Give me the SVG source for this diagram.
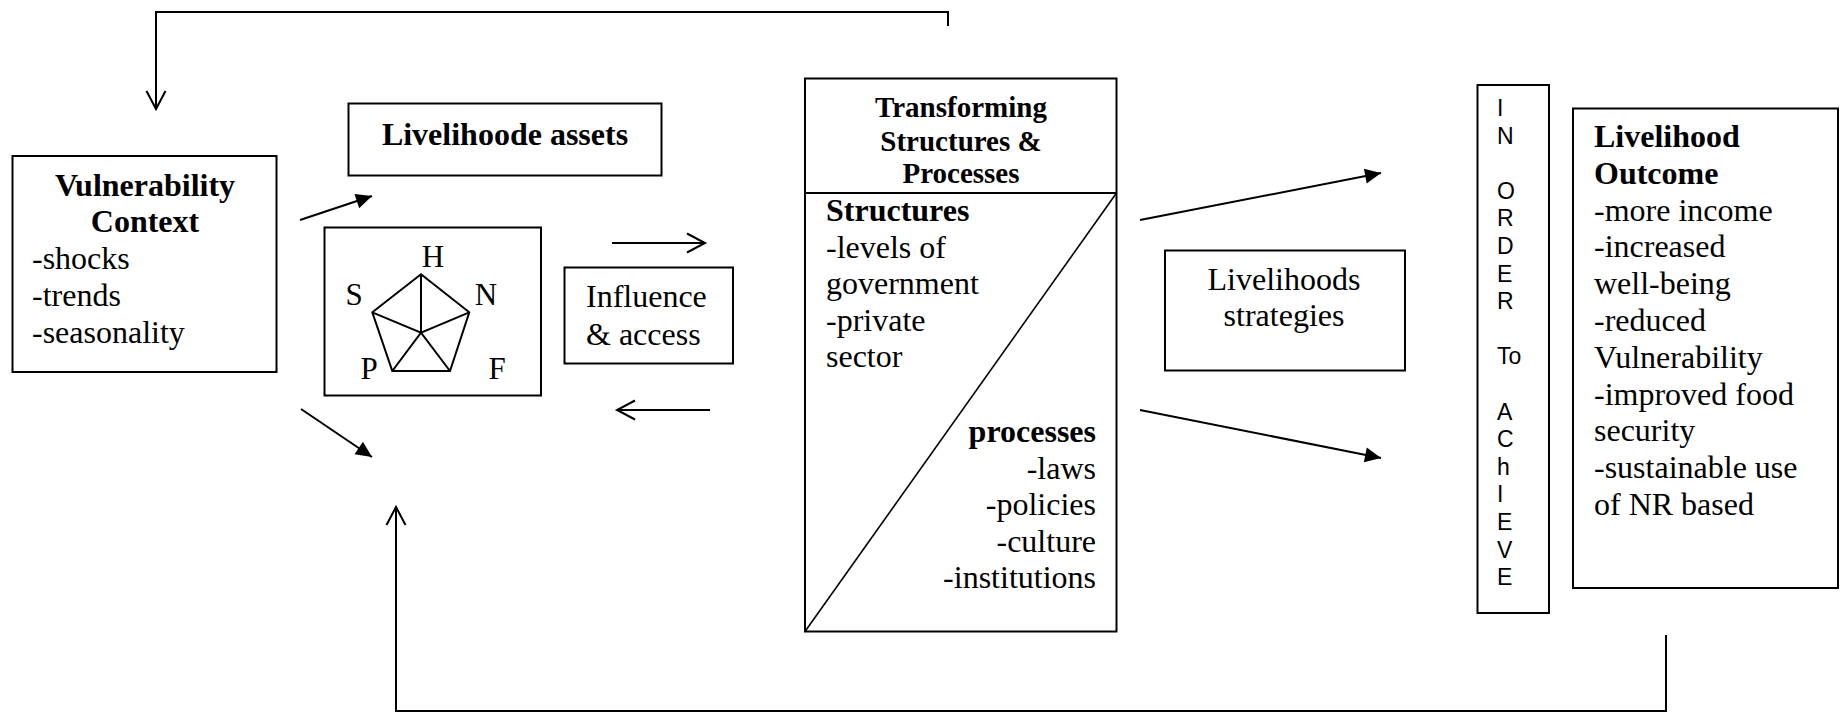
<svg xmlns="http://www.w3.org/2000/svg" width="1843" height="715" viewBox="0 0 1843 715">
<style>
.box{fill:#fff;stroke:#000;stroke-width:2}
.ln{fill:none;stroke:#000;stroke-width:2}
.t{font-family:"Liberation Serif","Times New Roman",serif;font-size:32px;fill:#000}
.b{font-weight:bold}
.m{text-anchor:middle}
.e{text-anchor:end}
.s{font-family:"Liberation Sans",Arial,sans-serif;font-size:23px;fill:#000}
.pl{font-family:"Liberation Serif","Times New Roman",serif;font-size:31px;fill:#000;text-anchor:middle}
</style>
<defs>
<marker id="fa" markerUnits="userSpaceOnUse" markerWidth="18" markerHeight="16" refX="16" refY="7.5" orient="auto" overflow="visible"><path d="M0,0 L16,7.5 L0,15 z" fill="#000"/></marker>
<marker id="oa" markerUnits="userSpaceOnUse" markerWidth="20" markerHeight="22" refX="18" refY="10" orient="auto" overflow="visible"><path d="M0,0.5 L18,10 L0,19.5" fill="none" stroke="#000" stroke-width="2"/></marker>
</defs>
<rect width="1843" height="715" fill="#fff"/>

<g id="connectors">
<path class="ln" d="M948,26 V12 H156 V109" marker-end="url(#oa)"/>
<path class="ln" d="M1666,635 V711 H396 V507" marker-end="url(#oa)"/>
<line class="ln" x1="300" y1="220" x2="372" y2="196" marker-end="url(#fa)"/>
<line class="ln" x1="301" y1="409" x2="372" y2="457" marker-end="url(#fa)"/>
<line class="ln" x1="612" y1="243" x2="705" y2="243" marker-end="url(#oa)"/>
<line class="ln" x1="710" y1="410" x2="617" y2="410" marker-end="url(#oa)"/>
<line class="ln" x1="1140" y1="220" x2="1381" y2="173" marker-end="url(#fa)"/>
<line class="ln" x1="1140" y1="410" x2="1381" y2="458" marker-end="url(#fa)"/>
</g>

<g id="vulnerability">
<rect class="box" x="12.5" y="156" width="264" height="216"/>
<text class="t b m" x="145" y="196">Vulnerability</text>
<text class="t b m" x="145" y="232">Context</text>
<text class="t" x="32" y="269">-shocks</text>
<text class="t" x="32" y="306">-trends</text>
<text class="t" x="32" y="342.5">-seasonality</text>
</g>

<g id="assets">
<rect class="box" x="348.5" y="103.5" width="313" height="72"/>
<text class="t b m" x="505" y="145">Livelihoode assets</text>
</g>

<g id="pentagon">
<rect class="box" x="324.5" y="227.5" width="216.5" height="168"/>
<path class="ln" d="M421,274.3 L469.3,312.3 L450,371 L392.3,371 L372.3,312.3 Z M421,274.3 L421,332.7 M372.3,312.3 L421,332.7 L469.3,312.3 M392.3,371 L421,332.7 L450,371" stroke-linejoin="miter"/>
<text class="pl" x="433" y="267">H</text>
<text class="pl" x="354" y="305">S</text>
<text class="pl" x="486" y="305">N</text>
<text class="pl" x="369" y="379">P</text>
<text class="pl" x="497" y="379">F</text>
</g>

<g id="influence">
<rect class="box" x="564.5" y="267.5" width="168.5" height="96"/>
<text class="t" x="586" y="306.5">Influence</text>
<text class="t" x="586" y="344.5">&amp; access</text>
</g>

<g id="transforming">
<rect class="box" x="805" y="78.5" width="311.5" height="553"/>
<line class="ln" x1="805" y1="193" x2="1116.5" y2="193"/>
<line x1="1116.5" y1="193" x2="805" y2="631.5" stroke="#000" stroke-width="1.6"/>
<text class="t b m" style="font-size:29px" x="961" y="117">Transforming</text>
<text class="t b m" style="font-size:29px" x="961" y="150.5">Structures &amp;</text>
<text class="t b m" style="font-size:29px" x="961" y="183">Processes</text>
<text class="t b" x="826" y="221">Structures</text>
<text class="t" x="826" y="257.5">-levels of</text>
<text class="t" x="826" y="294">government</text>
<text class="t" x="826" y="330.5">-private</text>
<text class="t" x="826" y="367">sector</text>
<text class="t b e" x="1096" y="442">processes</text>
<text class="t e" x="1096" y="478.5">-laws</text>
<text class="t e" x="1096" y="515">-policies</text>
<text class="t e" x="1096" y="551.5">-culture</text>
<text class="t e" x="1096" y="588">-institutions</text>
</g>

<g id="strategies">
<rect class="box" x="1165" y="250.5" width="240" height="120"/>
<text class="t m" x="1284" y="289.5">Livelihoods</text>
<text class="t m" x="1284" y="326">strategies</text>
</g>

<g id="inorder">
<rect class="box" x="1477.5" y="85" width="71.5" height="528"/>
<text class="s" x="1497" y="116">I</text>
<text class="s" x="1497" y="143.6">N</text>
<text class="s" x="1497" y="198.8">O</text>
<text class="s" x="1497" y="226.4">R</text>
<text class="s" x="1497" y="254">D</text>
<text class="s" x="1497" y="281.6">E</text>
<text class="s" x="1497" y="309.2">R</text>
<text class="s" x="1497" y="364.4">To</text>
<text class="s" x="1497" y="419.6">A</text>
<text class="s" x="1497" y="447.2">C</text>
<text class="s" x="1497" y="474.8">h</text>
<text class="s" x="1497" y="502.4">I</text>
<text class="s" x="1497" y="530">E</text>
<text class="s" x="1497" y="557.6">V</text>
<text class="s" x="1497" y="585.2">E</text>
</g>

<g id="outcome">
<rect class="box" x="1573" y="108.5" width="265" height="479.5"/>
<text class="t b" x="1594" y="147">Livelihood</text>
<text class="t b" x="1594" y="183.8">Outcome</text>
<text class="t" x="1594" y="220.6">-more income</text>
<text class="t" x="1594" y="257.4">-increased</text>
<text class="t" x="1594" y="294.2">well-being</text>
<text class="t" x="1594" y="331">-reduced</text>
<text class="t" x="1594" y="367.8">Vulnerability</text>
<text class="t" x="1594" y="404.6">-improved food</text>
<text class="t" x="1594" y="441.4">security</text>
<text class="t" x="1594" y="478.2">-sustainable use</text>
<text class="t" x="1594" y="515">of NR based</text>
</g>
</svg>
